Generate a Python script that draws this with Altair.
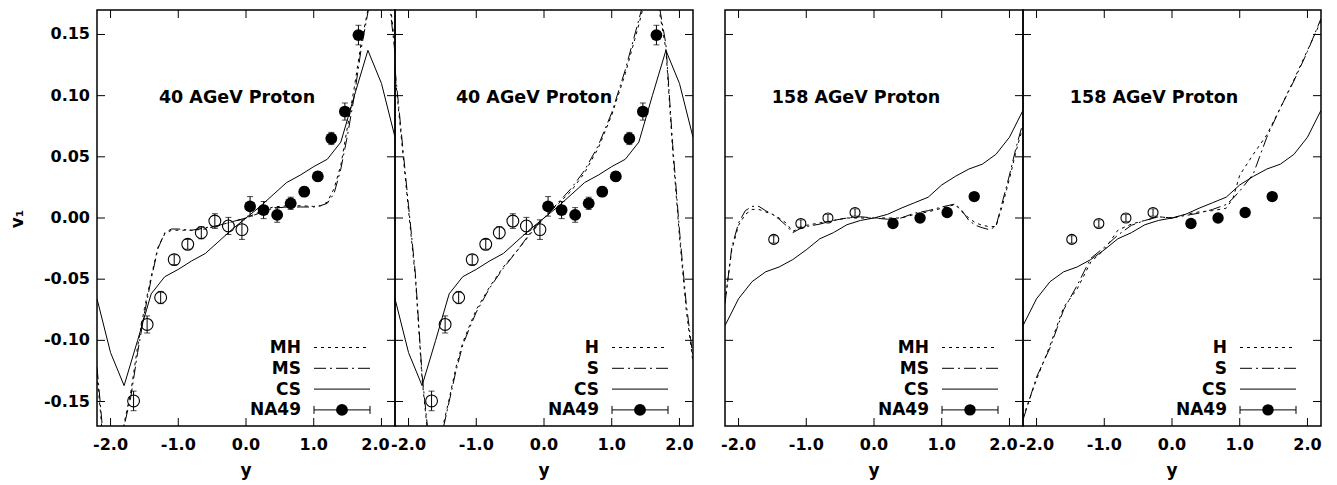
import altair as alt
import pandas as pd

FONT = "DejaVu Sans"
PW, PH = 298, 416
X_DOMAIN = [-2.2, 2.2]
Y_DOMAIN = [-0.17, 0.17]
X_TICKS = [-2.0, -1.0, 0.0, 1.0, 2.0]
X_LABELS = ["-2.0", "-1.0", "0.0", "1.0", "2.0"]
Y_TICKS = [-0.15, -0.10, -0.05, 0.0, 0.05, 0.10, 0.15]
Y_LABELS = ["-0.15", "-0.10", "-0.05", "0.00", "0.05", "0.10", "0.15"]

# ---------------- 40 AGeV ----------------
cs40_x = [-2.2, -2.0, -1.8, -1.6, -1.4, -1.2, -1.0, -0.8, -0.6, -0.4, -0.2, 0.0,
          0.2, 0.4, 0.6, 0.8, 1.0, 1.2, 1.4, 1.6, 1.8, 2.0, 2.2]
cs40_v = [-0.066, -0.110, -0.137, -0.100, -0.062, -0.048, -0.042, -0.035, -0.029, -0.019, -0.009, 0.000,
          0.009, 0.019, 0.029, 0.035, 0.042, 0.048, 0.062, 0.100, 0.137, 0.110, 0.066]

m40_x = [-2.2, -2.15, -2.1, -2.0, -1.9, -1.8, -1.7, -1.6, -1.5, -1.4, -1.3, -1.2, -1.1, -1.0, -0.8, -0.6,
         -0.4, -0.2, 0.0, 0.2, 0.4, 0.6, 0.8, 1.0, 1.1, 1.2, 1.3, 1.4, 1.5, 1.6, 1.7, 1.8, 1.9, 2.0, 2.1,
         2.15, 2.2]
mh40_v = [-0.128, -0.158, -0.190, -0.220, -0.205, -0.168, -0.142, -0.105, -0.074, -0.048, -0.024, -0.013,
          -0.010, -0.010, -0.010, -0.009, -0.006, -0.003, 0.000, 0.005, 0.009, 0.010, 0.010, 0.0095, 0.010,
          0.013, 0.024, 0.043, 0.075, 0.107, 0.143, 0.170, 0.205, 0.220, 0.190, 0.165, 0.140]
ms40_v = [-0.122, -0.152, -0.185, -0.215, -0.200, -0.170, -0.146, -0.110, -0.078, -0.050, -0.025, -0.012,
          -0.009, -0.009, -0.010, -0.008, -0.006, -0.003, 0.000, 0.004, 0.008, 0.009, 0.009, 0.009, 0.010,
          0.012, 0.020, 0.040, 0.068, 0.100, 0.138, 0.168, 0.200, 0.215, 0.185, 0.160, 0.135]

h40_x = [-2.2, -2.1, -2.0, -1.9, -1.8, -1.7, -1.6, -1.5, -1.4, -1.3, -1.2, -1.1, -1.0, -0.8, -0.6, -0.4,
         -0.2, 0.0, 0.2, 0.4, 0.6, 0.8, 1.0, 1.2, 1.4, 1.5, 1.6, 1.7, 1.8, 1.9, 2.0, 2.1, 2.2]
h40_v = [0.118, 0.062, 0.006, -0.048, -0.132, -0.185, -0.215, -0.172, -0.148, -0.122, -0.102, -0.088,
         -0.075, -0.056, -0.040, -0.027, -0.013, 0.000, 0.011, 0.022, 0.037, 0.057, 0.084, 0.118, 0.158,
         0.180, 0.200, 0.170, 0.138, 0.055, -0.015, -0.075, -0.118]
s40_v = [0.122, 0.066, 0.010, -0.045, -0.128, -0.182, -0.212, -0.175, -0.150, -0.125, -0.104, -0.090,
         -0.077, -0.057, -0.041, -0.027, -0.012, 0.000, 0.012, 0.024, 0.039, 0.059, 0.086, 0.121, 0.162,
         0.183, 0.203, 0.174, 0.142, 0.060, -0.010, -0.070, -0.114]

na40_fx = [0.06, 0.26, 0.46, 0.66, 0.86, 1.06, 1.26, 1.46, 1.66]
na40_fv = [0.0095, 0.0065, 0.0025, 0.012, 0.0215, 0.034, 0.065, 0.087, 0.1495]
na40_fe = [0.008, 0.007, 0.006, 0.005, 0.004, 0.004, 0.005, 0.007, 0.008]
na40_ox = [-1.66, -1.46, -1.26, -1.06, -0.86, -0.66, -0.46, -0.26, -0.06]
na40_ov = [-0.1495, -0.087, -0.065, -0.034, -0.0215, -0.012, -0.0025, -0.0065, -0.0095]
na40_oe = [0.008, 0.007, 0.005, 0.004, 0.004, 0.005, 0.006, 0.007, 0.008]

# ---------------- 158 AGeV ----------------
cs158_x = cs40_x
cs158_v = [-0.088, -0.066, -0.052, -0.044, -0.040, -0.034, -0.026, -0.017, -0.012, -0.0055, -0.002, 0.000,
           0.003, 0.008, 0.0125, 0.017, 0.027, 0.034, 0.040, 0.044, 0.052, 0.066, 0.088]

m158_x = [-2.2, -2.1, -2.0, -1.9, -1.8, -1.7, -1.6, -1.5, -1.4, -1.3, -1.2, -1.1, -1.0, -0.8, -0.6, -0.4,
          -0.2, 0.0, 0.2, 0.4, 0.6, 0.8, 1.0, 1.2, 1.3, 1.4, 1.5, 1.6, 1.7, 1.8, 1.9, 2.0, 2.1, 2.2]
mh158_v = [-0.068, -0.026, -0.006, 0.003, 0.007, 0.007, 0.005, 0.003, 0.000, -0.004, -0.011, -0.008,
           -0.006, -0.004, -0.002, 0.000, 0.000, 0.000, 0.000, 0.000, 0.003, 0.005, 0.008, 0.011, 0.005,
           0.000, -0.004, -0.006, -0.007, -0.007, 0.011, 0.032, 0.055, 0.075]
ms158_v = [-0.070, -0.024, -0.004, 0.006, 0.0095, 0.0095, 0.006, 0.003, -0.001, -0.006, -0.012, -0.009,
           -0.007, -0.005, -0.002, 0.000, 0.001, 0.000, -0.001, 0.000, 0.004, 0.006, 0.009, 0.0115, 0.006,
           -0.002, -0.006, -0.008, -0.0095, -0.007, 0.014, 0.035, 0.058, 0.078]

h158_x = [-2.2, -2.0, -1.8, -1.6, -1.4, -1.2, -1.0, -0.8, -0.6, -0.4, -0.2, 0.0, 0.2, 0.4, 0.6, 0.8, 0.9,
          1.0, 1.2, 1.4, 1.6, 1.8, 2.0, 2.2]
h158_v = [-0.163, -0.132, -0.104, -0.073, -0.058, -0.036, -0.026, -0.010, -0.005, -0.002, 0.001, 0.000,
          0.003, 0.005, 0.006, 0.008, 0.016, 0.035, 0.052, 0.068, 0.090, 0.113, 0.137, 0.161]
s158_v = [-0.165, -0.130, -0.106, -0.075, -0.055, -0.033, -0.024, -0.014, -0.006, -0.002, 0.001, 0.000,
          0.002, 0.004, 0.007, 0.011, 0.016, 0.022, 0.036, 0.066, 0.090, 0.112, 0.136, 0.163]

na158_fx = [0.28, 0.68, 1.08, 1.48]
na158_fv = [-0.0045, 0.0, 0.0045, 0.0175]
na158_fe = [0.003, 0.003, 0.003, 0.003]
na158_ox = [-1.48, -1.08, -0.68, -0.28]
na158_ov = [-0.0175, -0.0045, 0.0, 0.0045]
na158_oe = [0.003, 0.003, 0.003, 0.003]

DOT = [3, 4]
DASHDOT = [12, 4, 2, 4]


def txt(**kw):
    base = dict(font=FONT, fontWeight="bold", color="black")
    base.update(kw)
    return base


def panel(m1x, m1v, m2x, m2v, csx, csv, fx, fv, fe, ox, ov, oe, note, note_x, leg, show_y,
          fsize, osize, left_of_pair):
    xs = alt.Scale(domain=X_DOMAIN, nice=False, zero=False)
    ys = alt.Scale(domain=Y_DOMAIN, nice=False, zero=False)
    X = lambda f: alt.X(f, type="quantitative", scale=xs, axis=None)
    Y = lambda f: alt.Y(f, type="quantitative", scale=ys, axis=None)

    layers = []
    cs_df = pd.DataFrame({"x": csx, "v": csv})
    layers.append(alt.Chart(cs_df).mark_line(color="black", strokeWidth=1, clip=True).encode(
        x=X("x"), y=Y("v")))
    for mx, mv, dash in [(m1x, m1v, DOT), (m2x, m2v, DASHDOT)]:
        df = pd.DataFrame({"x": mx, "v": mv})
        layers.append(alt.Chart(df).mark_line(color="black", strokeWidth=1, strokeDash=dash, clip=True).encode(
            x=X("x"), y=Y("v")))

    fdf = pd.DataFrame({"x": fx, "v": fv, "lo": [a - b for a, b in zip(fv, fe)], "hi": [a + b for a, b in zip(fv, fe)]})
    odf = pd.DataFrame({"x": ox, "v": ov, "lo": [a - b for a, b in zip(ov, oe)], "hi": [a + b for a, b in zip(ov, oe)]})
    for df in (odf, fdf):
        layers.append(alt.Chart(df).mark_errorbar(ticks=True, size=6, thickness=1, color="black").encode(
            x=X("x"), y=Y("lo"), y2="hi:Q"))
    layers.append(alt.Chart(odf).mark_point(shape="circle", filled=False, color="black", strokeWidth=1.1,
                                            size=osize, opacity=1).encode(x=X("x"), y=Y("v")))
    layers.append(alt.Chart(fdf).mark_point(shape="circle", filled=True, color="black", size=fsize,
                                            opacity=1).encode(x=X("x"), y=Y("v")))

    # inward ticks on all four sides
    xt = pd.DataFrame({"t": X_TICKS, "lab": X_LABELS})
    yt = pd.DataFrame({"t": Y_TICKS, "lab": Y_LABELS})
    for a, b in [(0, 8), (PH - 8, PH)]:
        layers.append(alt.Chart(xt).mark_rule(color="black", strokeWidth=1).encode(
            x=X("t"), y=alt.value(a), y2=alt.value(b)))
    for a, b in [(0, 8), (PW - 8, PW)]:
        layers.append(alt.Chart(yt).mark_rule(color="black", strokeWidth=1).encode(
            y=Y("t"), x=alt.value(a), x2=alt.value(b)))

    # axis labels and titles (drawn as text)
    layers.append(alt.Chart(xt.iloc[:-1]).mark_text(**txt(fontSize=16, align="center", baseline="alphabetic")).encode(
        x=X("t"), y=alt.value(PH + 23.5), text="lab:N"))
    layers.append(alt.Chart(xt.iloc[-1:]).mark_text(**txt(fontSize=16, align="center", baseline="alphabetic",
                                                          dx=-6 if left_of_pair else 0)).encode(
        x=X("t"), y=alt.value(PH + 23.5), text="lab:N"))
    layers.append(alt.Chart(pd.DataFrame({"t": ["y"]})).mark_text(
        **txt(fontSize=17, align="center", baseline="alphabetic")).encode(
        x=alt.value(PW / 2), y=alt.value(PH + 50), text="t:N"))
    if show_y:
        layers.append(alt.Chart(yt).mark_text(**txt(fontSize=16, align="right", baseline="middle")).encode(
            y=Y("t"), x=alt.value(-7), text="lab:N"))
        layers.append(alt.Chart(pd.DataFrame({"t": ["v\u2081"]})).mark_text(
            **txt(fontSize=17, align="center", baseline="middle", angle=270)).encode(
            x=alt.value(-79), y=alt.value(PH / 2 + 1), text="t:N"))

    # annotation
    layers.append(alt.Chart(pd.DataFrame({"t": [note]})).mark_text(
        **txt(fontSize=17.5, align="center", baseline="alphabetic")).encode(
        x=alt.value(note_x), y=alt.value(93), text="t:N"))

    # legend
    for i, lab in enumerate(leg):
        yy = 337.5 + 20.8 * i
        one = pd.DataFrame({"t": [lab]})
        layers.append(alt.Chart(one).mark_text(**txt(fontSize=17, align="right", baseline="middle")).encode(
            x=alt.value(204), y=alt.value(yy + 0.5), text="t:N"))
        if i == 0:
            kw = dict(strokeDash=DOT)
        elif i == 1:
            kw = dict(strokeDash=DASHDOT)
        else:
            kw = {}
        layers.append(alt.Chart(one).mark_rule(color="black", strokeWidth=1, **kw).encode(
            x=alt.value(217), x2=alt.value(273), y=alt.value(yy)))
        if i == 3:
            for cx in (217, 273):
                layers.append(alt.Chart(one).mark_rule(color="black", strokeWidth=1).encode(
                    x=alt.value(cx), y=alt.value(yy - 4), y2=alt.value(yy + 4)))
            layers.append(alt.Chart(one).mark_point(shape="circle", filled=True, color="black",
                                                    size=fsize, opacity=1).encode(
                x=alt.value(245), y=alt.value(yy)))

    return alt.layer(*layers).properties(width=PW, height=PH)


p1 = panel(m40_x, mh40_v, m40_x, ms40_v, cs40_x, cs40_v, na40_fx, na40_fv, na40_fe, na40_ox, na40_ov,
           na40_oe, "40 AGeV Proton", 140, ["MH", "MS", "CS", "NA49"], True, 140, 140, True)
p2 = panel(h40_x, h40_v, h40_x, s40_v, cs40_x, cs40_v, na40_fx, na40_fv, na40_fe, na40_ox, na40_ov,
           na40_oe, "40 AGeV Proton", 139, ["H", "S", "CS", "NA49"], False, 140, 140, False)
p3 = panel(m158_x, mh158_v, m158_x, ms158_v, cs158_x, cs158_v, na158_fx, na158_fv, na158_fe, na158_ox,
           na158_ov, na158_oe, "158 AGeV Proton", 131, ["MH", "MS", "CS", "NA49"], False, 130, 100, True)
p4 = panel(h158_x, h158_v, h158_x, s158_v, cs158_x, cs158_v, na158_fx, na158_fv, na158_fe, na158_ox,
           na158_ov, na158_oe, "158 AGeV Proton", 131, ["H", "S", "CS", "NA49"], False, 130, 100, False)

spacer = alt.Chart(pd.DataFrame({"a": [0]})).mark_point(opacity=0, size=1).encode(
    x=alt.value(16), y=alt.value(PH / 2)
).properties(width=32, height=PH, view=alt.ViewBackground(strokeOpacity=0))

chart = alt.hconcat(p1, p2, spacer, p3, p4, spacing=0, bounds="flush").properties(
    padding={"left": 0, "top": 0, "right": 0, "bottom": 0}
).configure_view(
    stroke="black", strokeWidth=1.5
)

chart.save("out.html", embed_options={"renderer": "svg", "actions": False})
